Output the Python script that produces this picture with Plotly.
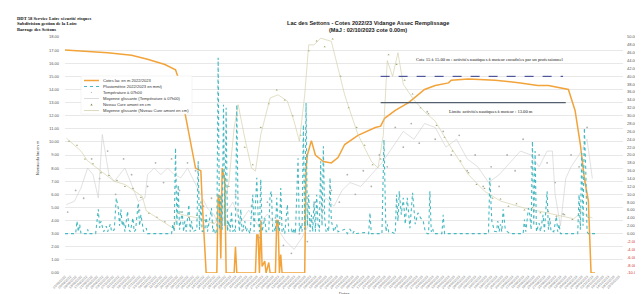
import pandas as pd
import plotly.graph_objects as go

# ---------------- data ----------------
START = pd.Timestamp("2022-09-01")
END = pd.Timestamp("2023-10-25")

# Cote du lac (m) - left axis ; x given as day offset from START
lake_days = [0, 20, 32, 50, 62, 75, 83, 85, 92, 98, 102, 103, 106, 114, 115, 116, 117, 118, 120, 121,
             127, 128, 129, 143, 144, 145, 146, 147, 148, 150, 151, 153, 154, 158, 159, 160, 161, 162, 163,
             180, 181, 182, 185, 188, 194, 200, 205, 210, 220, 233, 237, 240, 248, 258, 270, 278, 288, 290,
             303, 323, 342, 355, 363, 378, 383, 387, 390, 393, 395, 398]
lake_level = [17.0, 16.9, 16.8, 16.6, 16.3, 15.9, 15.5, 14.9, 11.1, 8.0, 7.8, 5.5, 0.0, 0.0, 6.0, 5.5, 1.1, 8.0, 7.0, 0.0,
              0.0, 2.0, 0.0, 0.0, 2.9, 2.9, 0.0, 4.0, 0.5, 0.9, 0.0, 0.8, 0.0, 0.0, 4.0, 4.0, 0.0, 1.4, 0.0,
              0.0, 8.0, 9.0, 10.1, 9.0, 8.5, 8.4, 8.8, 9.8, 10.5, 11.1, 11.2, 11.8, 12.4, 13.0, 14.0, 14.3, 14.5, 14.7,
              14.8, 14.7, 14.5, 14.3, 14.3, 14.0, 12.4, 9.8, 7.2, 5.5, 0.0, 0.0]

# Pluviométrie (mm/j) - right axis
rain_days = [0, 8, 9, 10, 11, 12, 16, 17, 18, 23, 25, 26, 27, 29, 31, 32, 34, 35, 37, 38.5, 40, 41, 42, 43, 44, 45,
             47, 48, 49, 51, 52, 53, 55, 56, 57, 59, 61, 62, 80, 81, 82, 83, 84, 85, 86, 88, 89, 90, 91, 93, 94,
             95, 96, 99, 100, 101, 102, 103, 105, 106, 107, 110, 111, 112, 113, 114, 115, 116, 117, 118, 119, 120,
             121, 122, 123, 124, 125, 126, 127, 128, 129, 130, 131, 132, 133, 135, 136, 137, 139, 141, 142, 144,
             145, 146, 147, 148, 150, 151, 153, 154, 155, 156, 157, 158, 159, 160, 161, 162, 163, 164, 165, 167,
             168, 170, 171, 172, 173, 175, 176, 177, 178, 179, 180, 181, 182, 183, 184, 185, 186, 187, 188, 189,
             190, 191, 192, 193, 194, 195, 196, 197, 198, 199, 200, 202, 204, 205, 206, 210, 212, 214, 216, 217,
             218, 225, 228, 229, 230, 238, 239.5, 241, 242, 243, 244, 248, 249, 250, 251, 252.5, 254, 255.5, 257,
             259, 261, 263, 265, 267, 269, 270.5, 272, 273, 274, 275, 276, 277, 283, 284, 285, 318, 319, 320.5,
             322.5, 324, 325, 326, 327, 328, 329, 330.5, 332, 334, 344, 345, 346, 348, 349, 350, 351, 352, 353,
             354, 356, 357, 359, 360, 362, 363, 364, 365, 366, 367, 369, 370, 371, 372, 385, 386, 387, 388, 389,
             390, 391, 392, 393, 398]
rain_mm = [0, 0, 3.2, 0.5, 2.4, 0, 0, 1.1, 0, 0, 6.2, 1.5, 3.2, 0.5, 1.9, 0.5, 2.4, 0.5, 1.0, 9.1, 6.5, 2.0, 6.2, 2.0, 3.2, 0.5,
           5.7, 1.0, 0.5, 4.0, 0.5, 1.0, 7.8, 2.0, 4.8, 0.5, 1.4, 0, 0, 2.4, 0.5, 21.8, 2.0, 12.4, 1.0, 5.7, 0.5, 3.2, 0.5, 7.4, 0.5,
           3.2, 0.5, 1.0, 18.4, 1.0, 8.2, 0.5, 1.0, 4.8, 0.5, 6.5, 0.5, 1.4, 0, 0, 44.7, 1.0, 9.9, 1.0, 32.8, 2.0,
           32.0, 0.5, 3.2, 0.5, 5.7, 0.5, 1.4, 0.5, 32.8, 4.8, 0.5, 6.2, 0.5, 3.2, 0.5, 1.4, 0, 9.9, 0.5, 14.2,
           4.8, 0.5, 13.8, 0.5, 4.0, 0.5, 0.5, 9.9, 10.8, 0.5, 1.4, 0.5, 9.1, 2.4, 0.5, 11.6, 0.5, 1.4, 0, 7.4,
           0.5, 1.1, 0, 1.4, 0, 19.2, 0.5, 2.4, 0.5, 27.7, 1.0, 33.2, 2.0, 9.9, 0.5, 4.8, 0.5, 8.2, 0.5, 9.9,
           2.4, 0.5, 18.4, 2.0, 22.2, 4.0, 0.5, 1.4, 0.5, 14.2, 3.2, 0.5, 2.4, 0.5, 0.6, 1.1, 0, 1.1, 0, 0.6,
           0, 0.3, 0, 5.3, 0, 0, 23.9, 0.5, 2.4, 0.5, 0.6, 0, 9.9, 3.2, 10.8, 4.8, 9.1, 2.4, 9.1,
           1.4, 10.4, 2.4, 5.3, 4.0, 3.2, 0.6, 0, 0, 10.8, 0.5, 1.4, 0, 0, 4.8, 0, 0, 14.2, 3.2,
           0.6, 0.5, 3.2, 0.5, 2.4, 0.5, 6.2, 1.4, 0.6, 0, 0, 3.6, 0.5, 6.5, 4.8, 1.0, 23.5, 2.0, 21.0,
           0.5, 2.7, 0.5, 4.8, 0.5, 10.8, 1.0, 4.0, 0.5, 0.6, 0.5, 4.4, 0.5, 2.4, 0, 0, 9.9, 1.0, 20.5, 2.0,
           26.9, 16.7, 0.5, 0, 0]

# Température à 07h00 (points) - right axis
temp_days = [2, 8, 14, 20, 26, 32, 38, 44, 50, 56, 62, 68, 74, 80, 86, 92, 98, 104, 110, 116, 122, 128, 134, 140,
             146, 152, 158, 164, 170, 176, 182, 188, 194, 200, 206, 212, 218, 224, 230, 236, 242, 248, 254, 260,
             266, 272, 278, 284, 290, 296, 302, 308, 314, 320, 326, 332, 338, 344, 350, 356, 362, 368, 374, 380,
             386, 392]
temp_vals = [5.5, 11, 9, 19, 14, 21, 10, 19, 15, 6, 12, 18, 13, 19, 11, 18, 16, 7, 9, 3, 2, 10, 1, 7,
             -1, 8, 4, -3, -5, 0, -2, 8, 6, 11, 8, 15, 10, 16, 12, 20, 17, 27, 22, 28,
             23, 31, 24, 26, 20, 25, 16, 20, 12, 17, 12, 20, 16, 24, 17, 20, 18, 13, 5, 20,
             17, 27]
# Moyenne glissante température
temp_avg_days = [1, 7, 12, 17, 21, 25, 28, 33, 37, 45, 50, 55, 60, 62, 67, 72, 77, 82, 87, 92, 97, 102, 107, 112,
                 116, 120, 126, 132, 138, 145, 152, 160, 166, 172, 178, 184, 190, 196, 202, 208, 214, 222, 230,
                 238, 246, 254, 262, 270, 278, 286, 294, 302, 310, 318, 326, 334, 342, 350, 356, 362, 366, 368,
                 372, 376, 380, 386, 392, 396]
temp_avg_vals = [7.4, 8.2, 11.6, 16.7, 15.0, 9.1, 25.2, 15.0, 13.3, 16.7, 12.5, 8.2, 9.1, 15.0, 16.7, 15.0, 16.7, 15.0,
                 14.2, 16.7, 13.3, 9.9, 6.5, 4.8, 1.4, 4.8, 8.0, 3.0, 6.0, 2.0, 5.0, 1.0, -2.0, -4.0, -1.0, 3.0, 6.0,
                 9.0, 7.0, 11.0, 13.0, 12.0, 15.0, 18.0, 22.0, 26.0, 24.0, 28.0, 27.0, 22.0, 24.0, 19.0, 17.0, 13.0,
                 15.0, 18.0, 21.0, 20.0, 17.0, 21.0, 21.0, 10.0, 2.0, 14.0, 17.0, 20.0, 24.0, 14.0]

# Niveau Cure amont (cm) (points) - right axis
cure_days = [3, 9, 15, 21, 27, 33, 39, 45, 51, 57, 63, 69, 75, 81, 87, 93, 99, 105, 111, 117, 123, 129, 135, 141,
             147, 153, 159, 165, 171, 177, 183, 189, 195, 201, 207, 213, 219, 225, 231, 237, 243, 249, 255, 261,
             267, 273, 279, 285, 291, 297, 303, 309, 315, 321, 327, 333, 339, 345, 351, 357, 363, 369, 375, 381,
             387, 393]
cure_vals = [23.5, 22.5, 19, 17.8, 15.5, 14.8, 13.5, 12, 11.5, 9.2, 5.2, 4.2, 3, 1.8, 5.5, 4.1, 4.6, 3.4, 2.8, 4.2,
             12, 30, 22, 17.5, 27, 33, 36.5, 34, 30, 25, 46.5, 49, 47.5, 49.5, 40, 32, 27, 22.5, 17.5, 19,
             45.5, 43, 39, 35.5, 32, 30.5, 27.5, 24.5, 21, 18.5, 15.5, 12.5, 11.5, 9, 8.8, 7, 7.6, 6, 6.6, 5.3,
             5.6, 4.4, 4.8, 3.6, 6, 4.2]
# Moyenne glissante Cure
cure_avg_days = [1, 7, 12, 17, 25, 31, 37, 45, 52, 58, 61, 70, 82, 84, 92, 100, 107, 112, 118, 123, 127, 130, 135,
                 140, 143, 147, 154, 160, 167, 172, 176, 180, 183, 187, 192, 200, 205, 210, 215, 220, 225, 230,
                 235, 239, 242, 246, 250, 254, 258, 262, 270, 278, 290, 303, 315, 327, 335, 345, 355, 365, 375,
                 382, 388, 392, 396]
cure_avg_vals = [24.3, 22.5, 21.0, 18.5, 16.5, 15.0, 13.3, 12.5, 11.0, 9.5, 5.8, 3.9, 1.2, 5.2, 4.5, 4.0, 3.2, 2.5,
                 5.0, 13.0, 26.9, 32.8, 24.3, 16.7, 15.9, 25.2, 34.5, 35.3, 33.7, 28.6, 23.5, 35.3, 48.0, 48.0,
                 49.7, 48.9, 42.1, 35.3, 30.2, 25.2, 21.8, 18.4, 16.7, 25.0, 44.0, 40.0, 46.0, 38.0, 36.0, 34.0,
                 31.0, 28.6, 21.8, 15.0, 10.8, 8.3, 7.5, 6.5, 5.8, 5.0, 4.2, 3.8, 5.5, 4.5, 4.0]

# reference levels (m) and their extent (days)
COTE_HAUTE = 15.0
COTE_BASSE = 13.0
ref_start_day, ref_end_day_dash, ref_end_day_solid = 237, 374, 376

left_ticks = list(range(0, 19))
right_ticks = list(range(-10, 52, 2))

# ---------------- helpers ----------------
def to_dates(days):
    return [START + pd.Timedelta(days=d) for d in days]

W, H = 643, 294
L, R, T, B = 57, 28, 29, 29
PW, PH = W - L - R, H - T - B


def px(x):
    return (x - L) / PW


def py(y):
    return 1 - (y - T) / PH


ORANGE = "#f2a33a"
TEAL = "#45b9c1"
GRAY = "#cdcdcd"
GRAY_M = "#b0b0b0"
OLIVE = "#cfcaa0"
OLIVE_M = "#a3a870"
SANS = "Liberation Sans, Arial, sans-serif"
SERIF = "Liberation Serif, Times New Roman, serif"

fig = go.Figure()

fig.add_trace(go.Scatter(x=to_dates(temp_days), y=temp_vals, yaxis="y2", mode="markers",
                         marker=dict(color=GRAY_M, size=1.8, symbol="circle"),
                         name="Température à 07h00", showlegend=False))
fig.add_trace(go.Scatter(x=to_dates(temp_avg_days), y=temp_avg_vals, yaxis="y2", mode="lines",
                         line=dict(color=GRAY, width=0.6),
                         name="Moyenne glissante (Température à 07h00)", showlegend=False))
fig.add_trace(go.Scatter(x=to_dates(cure_days), y=cure_vals, yaxis="y2", mode="markers",
                         marker=dict(color=OLIVE_M, size=2.0, symbol="triangle-up"),
                         name="Niveau Cure amont en cm", showlegend=False))
fig.add_trace(go.Scatter(x=to_dates(cure_avg_days), y=cure_avg_vals, yaxis="y2", mode="lines",
                         line=dict(color=OLIVE, width=0.6),
                         name="Moyenne glissante (Niveau Cure amont en cm)", showlegend=False))
fig.add_trace(go.Scatter(x=to_dates(rain_days), y=rain_mm, yaxis="y2", mode="lines",
                         line=dict(color=TEAL, width=1.1, dash="dot"),
                         name="Pluviométrie 2022/2023 en mm/j", showlegend=False))
fig.add_trace(go.Scatter(x=to_dates(lake_days), y=lake_level, yaxis="y", mode="lines",
                         line=dict(color=ORANGE, width=1.5),
                         name="Cotes lac en m 2022/2023", showlegend=False))

# reference lines (data coordinates)
fig.add_shape(type="line", xref="x", yref="y",
              x0=START + pd.Timedelta(days=ref_start_day), x1=START + pd.Timedelta(days=ref_end_day_dash),
              y0=COTE_HAUTE, y1=COTE_HAUTE, line=dict(color="#2e3a8a", width=1.0, dash="dash"))
fig.add_shape(type="line", xref="x", yref="y",
              x0=START + pd.Timedelta(days=ref_start_day), x1=START + pd.Timedelta(days=ref_end_day_solid),
              y0=COTE_BASSE, y1=COTE_BASSE, line=dict(color="#55606e", width=1.3))

annotations = []


def ann(text, x, y, size, color="#222", family=SANS, xanchor="center", textangle=0):
    annotations.append(dict(text=text, x=px(x), y=py(y), xref="paper", yref="paper", showarrow=False,
                            xanchor=xanchor, yanchor="middle", textangle=textangle,
                            font=dict(size=size, color=color, family=family)))


# header (top-left)
ann("<b>DDT 58 Service Loire sécurité risques</b>", 7, 10.5, 4.6, "#111", SERIF, "left")
ann("<b>Subdivision gestion de la Loire</b>", 7, 16.0, 4.6, "#111", SERIF, "left")
ann("<b>Barrage des Settons</b>", 7, 21.5, 4.6, "#111", SERIF, "left")
# title
ann("<b>Lac des Settons - Cotes 2022/23 Vidange Assec Remplissage</b>", 360, 15, 5.6, "#222")
ann("<b>(MàJ : 02/10/2023 cote 0.00m)</b>", 360, 22, 5.6, "#222")
# axis titles
ann("Niveau du lac en m", 29, 150, 4.0, "#333", SANS, "center", -90)
ann("Dates", 336, 285, 4.0, "#333")
# reference level texts
ann("Cote 15 à 15.00 m : activités nautiques à moteur encadrées par un professionnel", 481, 52, 4.6, "#222", SERIF)
ann("Limite activités nautiques à moteur : 13.00 m", 483, 103, 4.6, "#222", SERIF)

# ---------------- hand-drawn legend ----------------
shapes = []
shapes.append(dict(type="rect", xref="paper", yref="paper", x0=px(73), x1=px(184), y0=py(68), y1=py(106),
                   fillcolor="white", line=dict(color="#e8e8e8", width=0.5), layer="above"))
rows = [72.5, 78.5, 84.5, 90.5, 96.5, 102.5]
labels = ["Cotes lac en m 2022/2023", "Pluviométrie 2022/2023 en mm/j", "Température à 07h00",
          "Moyenne glissante (Température à 07h00)", "Niveau Cure amont en cm",
          "Moyenne glissante (Niveau Cure amont en cm)"]
shapes.append(dict(type="line", xref="paper", yref="paper", x0=px(76), x1=px(91), y0=py(rows[0]), y1=py(rows[0]),
                   line=dict(color=ORANGE, width=1.5), layer="above"))
shapes.append(dict(type="line", xref="paper", yref="paper", x0=px(76), x1=px(91), y0=py(rows[1]), y1=py(rows[1]),
                   line=dict(color=TEAL, width=1.1, dash="dot"), layer="above"))
shapes.append(dict(type="circle", xref="paper", yref="paper", x0=px(82.9), x1=px(84.1), y0=py(rows[2] + 0.6),
                   y1=py(rows[2] - 0.6), fillcolor=GRAY_M, line=dict(width=0), layer="above"))
shapes.append(dict(type="line", xref="paper", yref="paper", x0=px(76), x1=px(91), y0=py(rows[3]), y1=py(rows[3]),
                   line=dict(color=GRAY, width=0.7), layer="above"))
tri = f"M {px(82.4)} {py(rows[4] + 1.0)} L {px(84.6)} {py(rows[4] + 1.0)} L {px(83.5)} {py(rows[4] - 1.1)} Z"
shapes.append(dict(type="path", xref="paper", yref="paper", path=tri, fillcolor="#7f8c45",
                   line=dict(width=0), layer="above"))
shapes.append(dict(type="line", xref="paper", yref="paper", x0=px(76), x1=px(91), y0=py(rows[5]), y1=py(rows[5]),
                   line=dict(color=OLIVE, width=0.7), layer="above"))
for lab, ry in zip(labels, rows):
    ann(lab, 93, ry, 4.1, "#333", SANS, "left")

for s in shapes:
    fig.add_shape(**s)

right_text = [(f'<span style="color:#d03030">{v:.2f}</span>' if v < 0 else f"{v:.2f}") for v in right_ticks]

fig.update_layout(
    width=W, height=H, template="none",
    margin=dict(l=L, r=R, t=T, b=B, pad=0),
    paper_bgcolor="white", plot_bgcolor="white",
    showlegend=False,
    font=dict(family=SANS, size=4, color="#444"),
    annotations=annotations,
    xaxis=dict(type="date", range=[START, END], tick0=START, dtick=4 * 86400000,
               tickformat="%d/%m/%Y", tickangle=-45, tickfont=dict(size=3.4, color="#7a7a7a"),
               showgrid=False, zeroline=False, showline=False, ticks="", automargin=False),
    yaxis=dict(range=[0, 18], tickvals=left_ticks, ticktext=[f"{v:.2f}" for v in left_ticks],
               tickfont=dict(size=4, color="#555"), showgrid=True, gridcolor="#e8e8e8", gridwidth=0.6,
               zeroline=False, showline=False, ticks="", automargin=False, ticklabelstandoff=5),
    yaxis2=dict(range=[-10, 50], overlaying="y", side="right", tickvals=right_ticks, ticktext=right_text,
                tickfont=dict(size=4, color="#555"), showgrid=False, zeroline=False, showline=False,
                ticks="", automargin=False, ticklabelstandoff=3),
)

fig.write_html("out.html")
